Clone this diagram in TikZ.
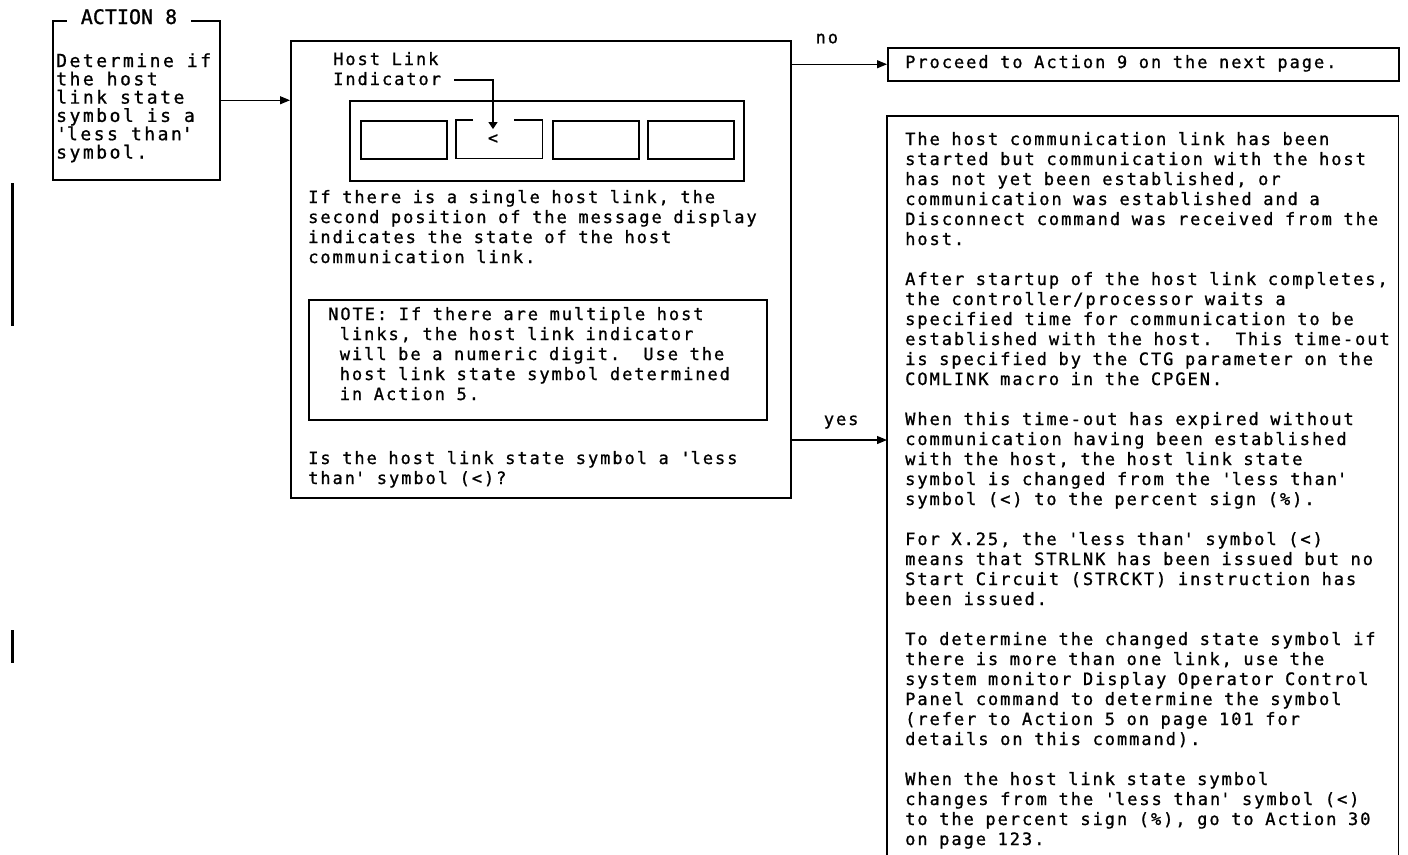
\documentclass[tikz,border=0pt]{standalone}
\usepackage{fontspec}
\usepackage{tikz}
\usetikzlibrary{arrows.meta}
\newfontfamily\typefont[LetterSpace=11.5, FakeBold=1]{DejaVu Sans Mono}
\newfontfamily\widefont[LetterSpace=14, FakeBold=1]{DejaVu Sans Mono}
\newfontfamily\headfont[FakeBold=1]{DejaVu Sans Mono}
\newcommand{\tq}{\textquotesingle}

\begin{document}
\begin{tikzpicture}[x=1pt, y=-1pt,
  >={Triangle[length=10pt, width=8pt]},
  frame/.style={draw, line width=1.5pt, inner sep=0pt},
  link/.style={->, line width=1.2pt},
  type/.style={font={\fontsize{17}{20}\selectfont\typefont}},
  txt/.style={type, align=left, inner sep=0pt, anchor=base west, text width=#1,
    execute at begin node={\spaceskip=11.6pt\relax\xspaceskip=11.6pt\relax}},
  txt/.default=480pt]
  \useasboundingbox (0,0) rectangle (1408,854);

  % Revision bars
  \draw[line width=3pt] (12,183) -- (12,326);
  \draw[line width=3pt] (12,630) -- (12,663);

  % Action 8
  \node[frame, minimum width=167pt, minimum height=159pt, anchor=north west] (act) at (52,20) {};
  \node[fill=white, font={\fontsize{20}{20}\selectfont\headfont}, inner xsep=14pt,
    inner ysep=1pt, anchor=base] (acttitle) at (129,24) {ACTION 8};
  \node[txt, font={\fontsize{18}{18.3}\selectfont\widefont},
    execute at begin node={\spaceskip=13pt\relax}] (acttext) at (56,67)
    {Determine if\\the host\\link state\\symbol is a\\\tq less than\tq\\symbol.};

  % Check box
  \node[frame, minimum width=500pt, minimum height=457pt, anchor=north west] (check) at (290,40) {};
  \draw[link] (act.east) -- (act.east -| check.west);

  % Message display
  \node[txt] (hostlbl) at (333,65) {Host Link\\Indicator};
  \node[frame, minimum width=394pt, minimum height=80pt, anchor=north west] (panel) at (349,100) {};
  \foreach \n/\x in {1/360, 3/552, 4/647}
    \node[frame, minimum width=86pt, minimum height=38pt, anchor=north west] (cell\n) at (\x,120) {};
  \node[minimum width=86pt, minimum height=38pt, inner sep=0pt, anchor=north west] (cell2) at (456,120) {};
  \draw[line width=1.5pt] ([xshift=17pt]cell2.north west) -| (cell2.south west)
    -| (cell2.north east) -- ([xshift=-28pt]cell2.north east);
  \node[type, inner sep=0pt] (ltsym) at (493,139) {<};
  \coordinate (lead) at (454,80);
  \draw[line width=1.2pt, -{Triangle[length=7pt, width=9pt]}] (lead) -| ([yshift=5pt]ltsym.north);

  % Text
  \node[txt] (para) at (308,203) {If there is a single host link, the\\second position of the message display\\indicates the state of the host\\communication link.};
  \node[frame, minimum width=458pt, minimum height=120pt, anchor=north west] (notebox) at (308,299) {};
  \node[txt] (notetext) at (328,320) {NOTE: If there are multiple host\\~links, the host link indicator\\~will be a numeric digit.\ \ Use the\\~host link state symbol determined\\~in Action 5.};
  \node[txt] (question) at (308,464) {Is the host link state symbol a \tq less\\than\tq{} symbol (<)?};

  % No branch
  \node[frame, minimum width=511pt, minimum height=33pt, anchor=north west] (proceed) at (887,47) {};
  \node[txt] (proceedtext) at (905,68) {Proceed to Action 9 on the next page.};
  \draw[link] (check.east |- proceed.west) -- (proceed.west)
    node[type, inner sep=0pt, anchor=base, pos=0.37, yshift=21pt] (nolbl) {no};

  % Yes branch
  \node[minimum width=511pt, minimum height=760pt, inner sep=0pt, anchor=north west] (info) at (887,116) {};
  \draw[line width=1.5pt] (info.south west) -- (info.north west) -- (info.north east) -- (info.south east);
  \coordinate (yesrow) at (0,440);
  \draw[link] (check.east |- yesrow) -- (info.west |- yesrow)
    node[type, inner sep=0pt, anchor=base, pos=0.52, yshift=15pt] (yeslbl) {yes};
  \node[txt=490pt] (infotext) at (905,145) {The host communication link has been\\
started but communication with the host\\
has not yet been established, or\\
communication was established and a\\
Disconnect command was received from the\\
host.\\[20pt]
After startup of the host link completes,\\
the controller/processor waits a\\
specified time for communication to be\\
established with the host.\ \ This time-out\\
is specified by the CTG parameter on the\\
COMLINK macro in the CPGEN.\\[20pt]
When this time-out has expired without\\
communication having been established\\
with the host, the host link state\\
symbol is changed from the \tq less than\tq\\
symbol (<) to the percent sign (\%).\\[20pt]
For X.25, the \tq less than\tq{} symbol (<)\\
means that STRLNK has been issued but no\\
Start Circuit (STRCKT) instruction has\\
been issued.\\[20pt]
To determine the changed state symbol if\\
there is more than one link, use the\\
system monitor Display Operator Control\\
Panel command to determine the symbol\\
(refer to Action 5 on page 101 for\\
details on this command).\\[20pt]
When the host link state symbol\\
changes from the \tq less than\tq{} symbol (<)\\
to the percent sign (\%), go to Action 30\\
on page 123.};
\end{tikzpicture}
\end{document}
